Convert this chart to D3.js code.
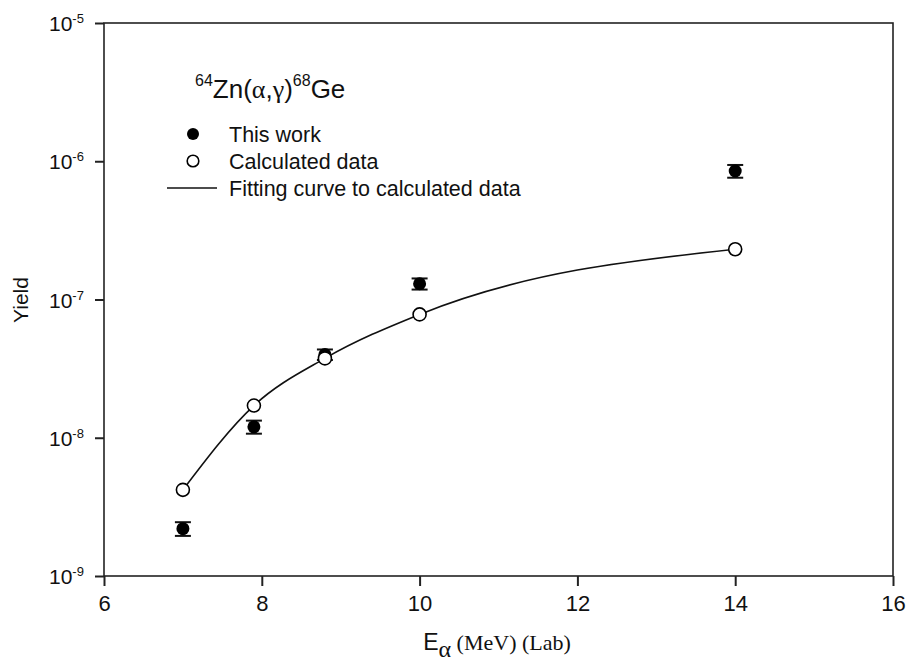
<!DOCTYPE html>
<meta charset="utf-8">
<style>
body { margin: 0; background: #fff; }
svg { display: block; }
text { font-family: Arial, "Liberation Sans", Helvetica, sans-serif; fill: #111; }
.frame { fill: none; stroke: #222; stroke-width: 1.6px; }
.tick line { stroke: #222; stroke-width: 2px; }
.fit { fill: none; stroke: #111; stroke-width: 1.6px; }
</style>
<svg width="907" height="661"></svg>
<script src="https://cdn.jsdelivr.net/npm/d3@7"></script>
<script>

// energies (MeV, lab)
var energy = [7, 7.9, 8.8, 10, 14];
// measured yield (this work) and its error
var measured = [2.2e-9, 1.2e-8, 4.0e-8, 1.3e-7, 8.5e-7];
var measuredErr = [0.25e-9, 0.13e-8, 0.35e-8, 0.12e-7, 0.9e-7];
// calculated yield
var calculated = [4.2e-9, 1.71e-8, 3.75e-8, 7.8e-8, 2.31e-7];

var xTicks = [6, 8, 10, 12, 14, 16];
var yTicks = [-9, -8, -7, -6, -5];

var svg = d3.select("svg"),
    mLeft = 104, mRight = 893, mTop = 23, mBottom = 576;

var x = d3.scaleLinear().domain([6, 16]).range([mLeft, mRight]);
var y = d3.scaleLog().domain([1e-9, 1e-5]).range([mBottom, mTop]);

// frame
svg.append("rect")
    .attr("class", "frame")
    .attr("x", mLeft).attr("y", mTop)
    .attr("width", mRight - mLeft).attr("height", mBottom - mTop);

// x axis
var xAxis = svg.append("g")
    .attr("transform", "translate(0," + mBottom + ")")
    .call(d3.axisBottom(x).tickValues(xTicks).tickSize(10).tickFormat(d3.format("d")));
xAxis.select(".domain").remove();
xAxis.selectAll("text")
    .attr("y", 19)
    .style("font-size", "22px")
    .style("font-family", "Arial, sans-serif");

// y axis
var yAxis = svg.append("g")
    .attr("transform", "translate(" + mLeft + ",0)")
    .call(d3.axisLeft(y).tickValues(yTicks.map(function(e) { return Math.pow(10, e); })).tickSize(9).tickFormat(""));
yAxis.select(".domain").remove();

var yLab = svg.append("g").selectAll("text")
    .data(yTicks)
  .enter().append("text")
    .attr("x", 49)
    .attr("y", function(e) { return y(Math.pow(10, e)) + 8; })
    .style("font-size", "21px");
yLab.append("tspan").text("10");
yLab.append("tspan")
    .attr("dy", -8)
    .style("font-size", "13px")
    .text(function(e) { return "-" + Math.abs(e); });

// axis titles
svg.append("text")
    .attr("transform", "translate(28,300) rotate(-90)")
    .attr("text-anchor", "middle")
    .style("font-size", "21px")
    .text("Yield");

var xt = svg.append("text")
    .attr("x", 497)
    .attr("y", 650)
    .attr("text-anchor", "middle")
    .style("font-size", "23px");
xt.append("tspan").text("E");
xt.append("tspan")
    .attr("dy", 7)
    .style("font-family", "'Liberation Serif', 'Times New Roman', serif")
    .style("font-size", "24px")
    .text("α");
xt.append("tspan")
    .attr("dy", -7)
    .style("font-family", "'Liberation Serif', 'Times New Roman', serif")
    .style("font-size", "22px")
    .text(" (MeV) (Lab)");

// measured points with error bars
var meas = energy.map(function(e, i) { return { x: e, y: measured[i], err: measuredErr[i] }; });
var calc = energy.map(function(e, i) { return { x: e, y: calculated[i] }; });

var eb = svg.append("g").selectAll("g")
    .data(meas)
  .enter().append("g");
eb.append("line")
    .attr("x1", function(d) { return x(d.x); })
    .attr("x2", function(d) { return x(d.x); })
    .attr("y1", function(d) { return y(d.y - d.err); })
    .attr("y2", function(d) { return y(d.y + d.err); })
    .attr("stroke", "#111").attr("stroke-width", 1.5);
eb.selectAll(".cap")
    .data(function(d) { return [d.y - d.err, d.y + d.err].map(function(v) { return { x: d.x, y: v }; }); })
  .enter().append("line")
    .attr("x1", function(d) { return x(d.x) - 8; })
    .attr("x2", function(d) { return x(d.x) + 8; })
    .attr("y1", function(d) { return y(d.y); })
    .attr("y2", function(d) { return y(d.y); })
    .attr("stroke", "#111").attr("stroke-width", 2);
eb.append("circle")
    .attr("cx", function(d) { return x(d.x); })
    .attr("cy", function(d) { return y(d.y); })
    .attr("r", 6.5)
    .attr("fill", "#000");

// fitting curve
var line = d3.line()
    .x(function(d) { return x(d.x); })
    .y(function(d) { return y(d.y); })
    .curve(d3.curveMonotoneX);
svg.append("path")
    .datum(calc)
    .attr("class", "fit")
    .attr("d", line);

svg.append("g").selectAll("circle")
    .data(calc)
  .enter().append("circle")
    .attr("cx", function(d) { return x(d.x); })
    .attr("cy", function(d) { return y(d.y); })
    .attr("r", 6.5)
    .attr("fill", "#fff")
    .attr("stroke", "#000")
    .attr("stroke-width", 1.6);

// reaction label
var title = svg.append("text")
    .attr("x", 195)
    .attr("y", 98)
    .style("font-size", "26px");
title.append("tspan").attr("dy", -12).style("font-size", "16px").text("64");
title.append("tspan").attr("dy", 12).text("Zn(");
title.append("tspan").style("font-family", "'Liberation Serif', serif").text("α");
title.append("tspan").text(",");
title.append("tspan").style("font-family", "'Liberation Serif', serif").text("γ");
title.append("tspan").text(")");
title.append("tspan").attr("dy", -12).style("font-size", "16px").text("68");
title.append("tspan").attr("dy", 12).text("Ge");

// legend
var lg = svg.append("g").style("font-size", "21.5px");
lg.append("circle").attr("cx", 193).attr("cy", 134).attr("r", 6).attr("fill", "#000");
lg.append("text").attr("x", 229).attr("y", 134).attr("dy", "0.35em").text("This work");
lg.append("circle").attr("cx", 193).attr("cy", 161).attr("r", 5.8)
    .attr("fill", "#fff").attr("stroke", "#000").attr("stroke-width", 1.6);
lg.append("text").attr("x", 229).attr("y", 161).attr("dy", "0.35em").text("Calculated data");
lg.append("line").attr("x1", 167).attr("x2", 217).attr("y1", 188).attr("y2", 188)
    .attr("stroke", "#111").attr("stroke-width", 1.6);
lg.append("text").attr("x", 229).attr("y", 188).attr("dy", "0.35em").text("Fitting curve to calculated data");

</script>
